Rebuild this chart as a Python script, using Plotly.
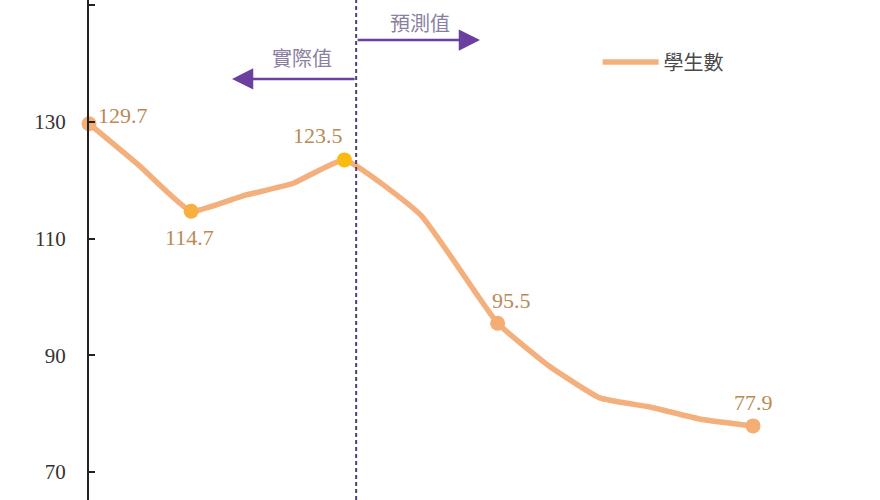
import plotly.graph_objects as go

# ---- data ----
period = [0, 1, 2, 3, 4, 5, 6.5, 8, 9, 10, 11, 12, 13]
students = [129.7, 122.4, 114.7, 117.3, 119.5, 123.5, 114.0, 95.5, 88.2, 82.7, 81.1, 79.0, 77.9]
labelled_idx = [0, 2, 5, 7, 12]
marker_colors = ["#F4AF7A", "#F6B03F", "#FABA14", "#F4AE74", "#F4AE74"]
y_ticks = [70, 90, 110, 130, 150]
series_name = "學生數"
actual_text = "實際值"
forecast_text = "預測值"

# ---- styling / positions ----
label_style = [  # (xanchor, xshift, yshift)
    ("left", 7, 8),
    ("center", -2, -26),
    ("center", -26, 24),
    ("center", 14, 23),
    ("center", 0, 23),
]
boundary_x = 5.23
line_color = "#F4B07C"
arrow_color = "#6A3FA0"
px_per_x = 51.08
plot_w = 880 - 89

lab_x = [period[i] for i in labelled_idx]
lab_y = [students[i] for i in labelled_idx]

fig = go.Figure()
fig.add_trace(go.Scatter(
    x=period, y=students, mode="lines", name=series_name,
    line=dict(color=line_color, width=5.5, shape="spline", smoothing=0.4),
    cliponaxis=False,
))
fig.add_trace(go.Scatter(
    x=lab_x, y=lab_y, mode="markers", showlegend=False,
    marker=dict(size=15, color=marker_colors),
    cliponaxis=False,
))
for xv, yv, (xa, xs, ys) in zip(lab_x, lab_y, label_style):
    fig.add_annotation(x=xv, y=yv, xref="x", yref="y", text=f"{yv:.1f}",
                       showarrow=False, xanchor=xa, yanchor="middle",
                       xshift=xs, yshift=ys,
                       font=dict(family="Liberation Serif", size=22, color="#B98A55"))

fig.add_shape(type="line", x0=boundary_x, x1=boundary_x, y0=0, y1=1,
              xref="x", yref="paper",
              line=dict(color="#4B4378", width=2, dash="4px,3px"))

# arrows
fig.add_annotation(x=7.655, y=144.05, ax=boundary_x, ay=144.05,
                   xref="x", yref="y", axref="x", ayref="y",
                   text="", showarrow=True, arrowhead=2, arrowsize=1.7,
                   arrowwidth=2.5, arrowcolor=arrow_color)
fig.add_annotation(x=2.80, y=137.37, ax=boundary_x, ay=137.37,
                   xref="x", yref="y", axref="x", ayref="y",
                   text="", showarrow=True, arrowhead=2, arrowsize=1.7,
                   arrowwidth=2.5, arrowcolor=arrow_color)
fig.add_annotation(x=6.48, y=147.1, xref="x", yref="y", text=forecast_text,
                   showarrow=False,
                   font=dict(family="Noto Sans CJK TC", size=20, color="#8A7FA2"))
fig.add_annotation(x=4.17, y=141.1, xref="x", yref="y", text=actual_text,
                   showarrow=False,
                   font=dict(family="Noto Sans CJK TC", size=20, color="#8A7FA2"))

fig.update_layout(
    width=880, height=500,
    margin=dict(l=89, r=0, t=0, b=0, autoexpand=False),
    paper_bgcolor="white", plot_bgcolor="white",
    showlegend=True,
    legend=dict(x=0.643, y=0.876, xanchor="left", yanchor="middle",
                bgcolor="rgba(0,0,0,0)", itemwidth=56,
                font=dict(family="Noto Sans CJK TC", size=20, color="#4A4A4A")),
    xaxis=dict(visible=False, range=[0, plot_w / px_per_x]),
    yaxis=dict(range=[65.2, 150.91], showline=True, linecolor="#222222",
               linewidth=2, ticks="inside", ticklen=6, tickwidth=2,
               tickcolor="#222222", showgrid=False, zeroline=False,
               tickvals=y_ticks, ticklabelstandoff=17,
               tickfont=dict(family="Liberation Serif", size=21, color="#333333")),
)

fig.write_html("out.html", config={"displayModeBar": False},
               post_script="document.body.style.margin='0px';")
